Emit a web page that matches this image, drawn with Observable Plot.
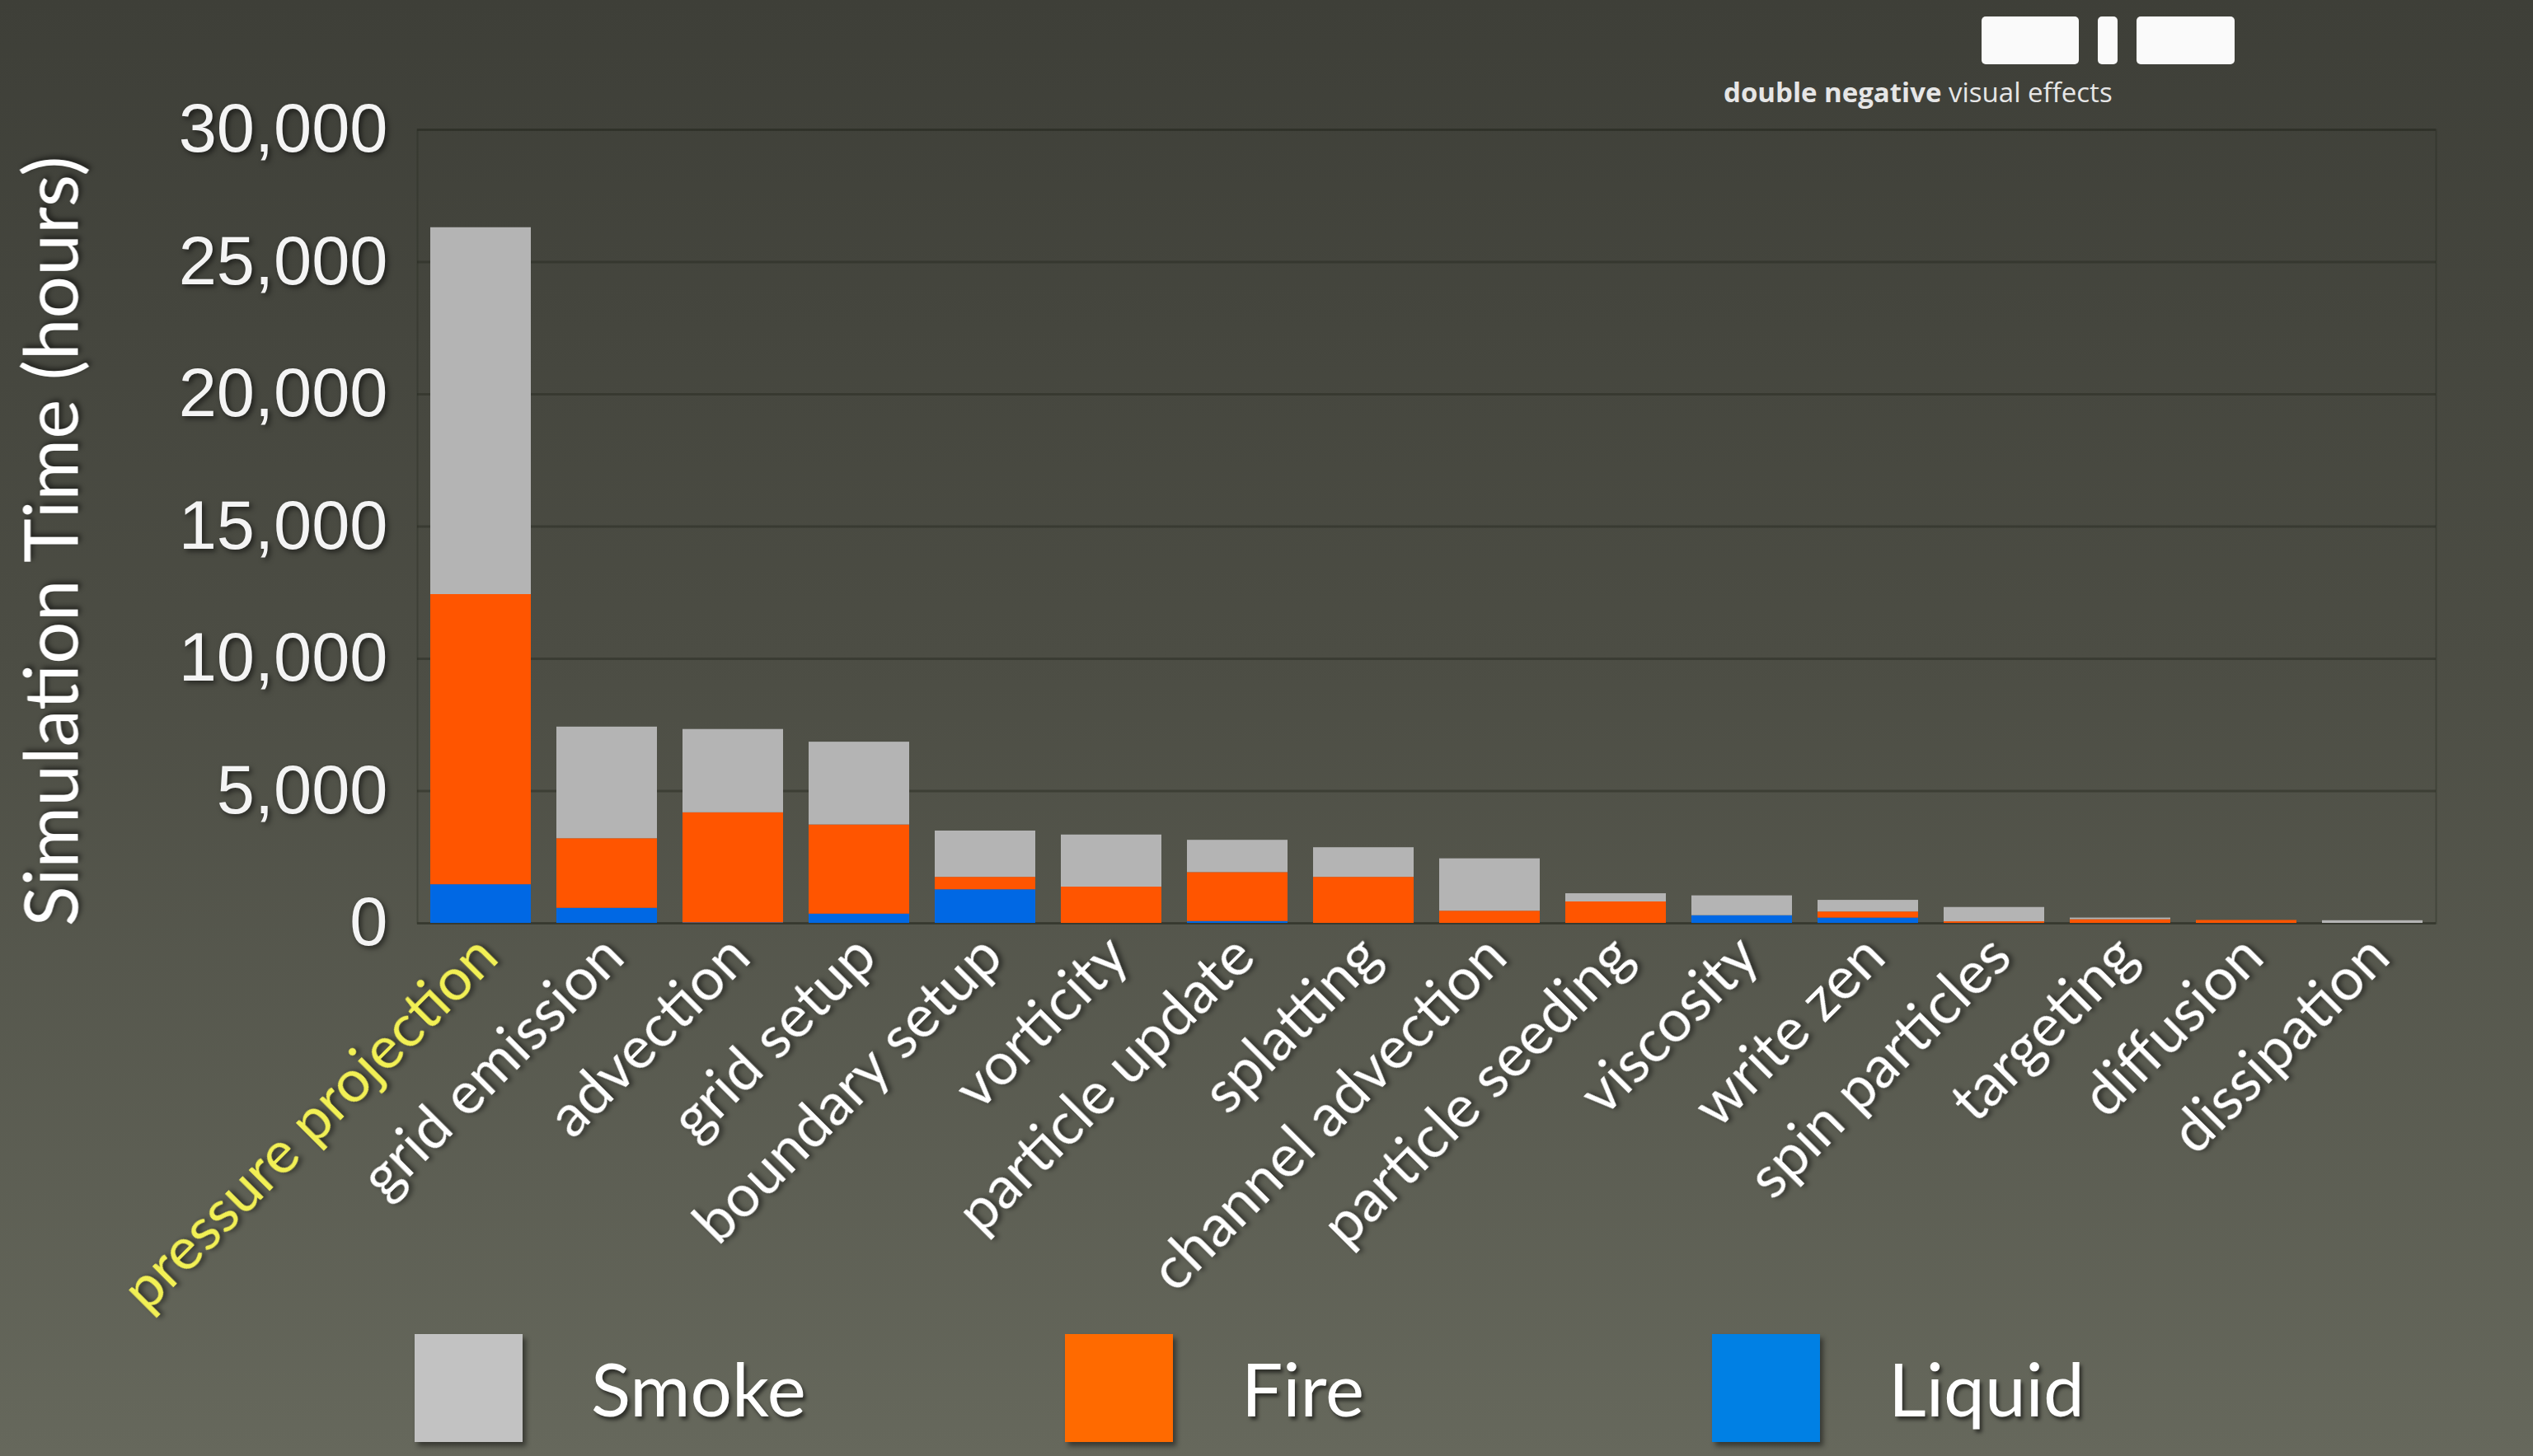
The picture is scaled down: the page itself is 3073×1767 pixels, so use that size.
<!DOCTYPE html>
<html>
<head>
<meta charset="utf-8">
<script src="https://cdn.jsdelivr.net/npm/d3@7"></script>
<script src="https://cdn.jsdelivr.net/npm/@observablehq/plot@0.6"></script>
<style>
  html, body { margin: 0; padding: 0; }
  #page {
    position: relative; width: 3073px; height: 1767px; overflow: hidden;
    background: linear-gradient(to bottom, #3e3f38 0%, #4c4d44 45%, #66685c 100%);
  }
  #logo .r { position: absolute; top: 20px; height: 58px; background: #fafafa; border-radius: 5px; }
  #logo .t { position: absolute; left: 2091px; top: 89px; font-family: "Open Sans", sans-serif; font-size: 33px; color: #e6e6e6; white-space: nowrap; }
  #chart { position: absolute; left: 0; top: 130px; }
  #chart svg text { filter: drop-shadow(3px 3px 3px rgba(0,0,0,0.55)); }
  #legend { position: relative; width: 3073px; height: 147px; }
  #legend .item { position: absolute; top: -1px; height: 131px; }
  #legend .sw { position: absolute; left: 0; top: 0; width: 131px; height: 131px; box-shadow: 4px 5px 6px rgba(0,0,0,0.45); }
  #legend .lab { position: absolute; left: 214px; top: 0; line-height: 131px; font-family: Lato, sans-serif; font-size: 89px; color: #ffffff; text-shadow: 3px 4px 4px rgba(0,0,0,0.55); white-space: nowrap; }
</style>
</head>
<body>
<div id="page">
  <div id="logo">
    <div class="r" style="left:2404px;width:118px"></div>
    <div class="r" style="left:2545px;width:24px"></div>
    <div class="r" style="left:2592px;width:119px"></div>
    <div class="t"><b>double negative</b> visual effects</div>
  </div>
  <div id="chart"></div>
</div>
<script>
const categories = ["pressure projection","grid emission","advection","grid setup","boundary setup","vorticity","particle update","splatting","channel advection","particle seeding","viscosity","write zen","spin particles","targeting","diffusion","dissipation"];
const liquid = [1460, 570, 20, 350, 1270, 0, 70, 0, 0, 0, 290, 200, 0, 0, 0, 0];
const fire   = [10970, 2630, 4160, 3370, 470, 1370, 1850, 1740, 460, 810, 0, 230, 60, 140, 110, 0];
const smoke  = [13870, 4220, 3150, 3130, 1750, 1970, 1220, 1120, 1980, 310, 750, 440, 540, 60, 0, 100];
const seriesNames = ["Liquid", "Fire", "Smoke"];
const seriesColors = ["#0068e4", "#ff5500", "#b4b4b4"];
const legendNames = ["Smoke", "Fire", "Liquid"];
const legendColors = ["#c2c2c2", "#ff6a00", "#0080e4"];
const yTicks = [0, 5000, 10000, 15000, 20000, 25000, 30000];
const highlighted = ["pressure projection"];

const rows = [];
categories.forEach((c, i) => {
  rows.push({category: c, series: "Liquid", hours: liquid[i]});
  rows.push({category: c, series: "Fire", hours: fire[i]});
  rows.push({category: c, series: "Smoke", hours: smoke[i]});
});

const gridColor = "#26271f";

const chart = Plot.plot({
  width: 3073,
  height: 1490,
  marginTop: 27,
  marginBottom: 500,
  marginLeft: 506,
  marginRight: 118,
  style: {background: "transparent", overflow: "visible", fontFamily: "Liberation Sans, Arial, sans-serif"},
  x: {domain: categories, paddingInner: 0.2, paddingOuter: 0.1, axis: null, label: null},
  y: {domain: [0, 30000], axis: null, label: null},
  color: {domain: seriesNames, range: seriesColors},
  marks: [
    Plot.gridY(yTicks, {stroke: gridColor, strokeOpacity: 0.45, strokeWidth: 3}),
    Plot.frame({stroke: gridColor, strokeOpacity: 0.35, strokeWidth: 2}),
    Plot.barY(rows, {x: "category", y: "hours", fill: "series", style: "filter: drop-shadow(5px 5px 5px rgba(0,0,0,0.45))"}),
    Plot.axisY({ticks: yTicks, tickFormat: d3.format(","), tickSize: 0, tickPadding: 36, fontSize: 83, fill: "#f4f4f4", fontFamily: "Liberation Sans, Arial, sans-serif", label: null}),
    Plot.axisX({ticks: highlighted, tickRotate: -45, tickSize: 0, tickPadding: 28, dx: 8, fontSize: 72, fill: "#f2f055", fontFamily: "Lato, sans-serif", label: null}),
    Plot.axisX({ticks: categories.filter(c => !highlighted.includes(c)), tickRotate: -45, tickSize: 0, tickPadding: 28, dx: 8, fontSize: 72, fill: "#ffffff", fontFamily: "Lato, sans-serif", label: null}),
    Plot.text(["Simulation Time (hours)"], {frameAnchor: "left", textAnchor: "middle", rotate: -90, dx: -441, dy: 18, fontSize: 91, fill: "#ffffff", fontFamily: "Lato, sans-serif"})
  ]
});
const chartDiv = document.getElementById("chart");
chartDiv.appendChild(chart);

const legend = document.createElement("div");
legend.id = "legend";
const legendLefts = [503, 1292, 2077];
legendNames.forEach((n, i) => {
  const it = document.createElement("div");
  it.className = "item";
  it.style.left = legendLefts[i] + "px";
  it.innerHTML = `<div class="sw" style="background:${legendColors[i]}"></div><div class="lab">${n}</div>`;
  legend.appendChild(it);
});
chartDiv.appendChild(legend);
</script>
</body>
</html>
